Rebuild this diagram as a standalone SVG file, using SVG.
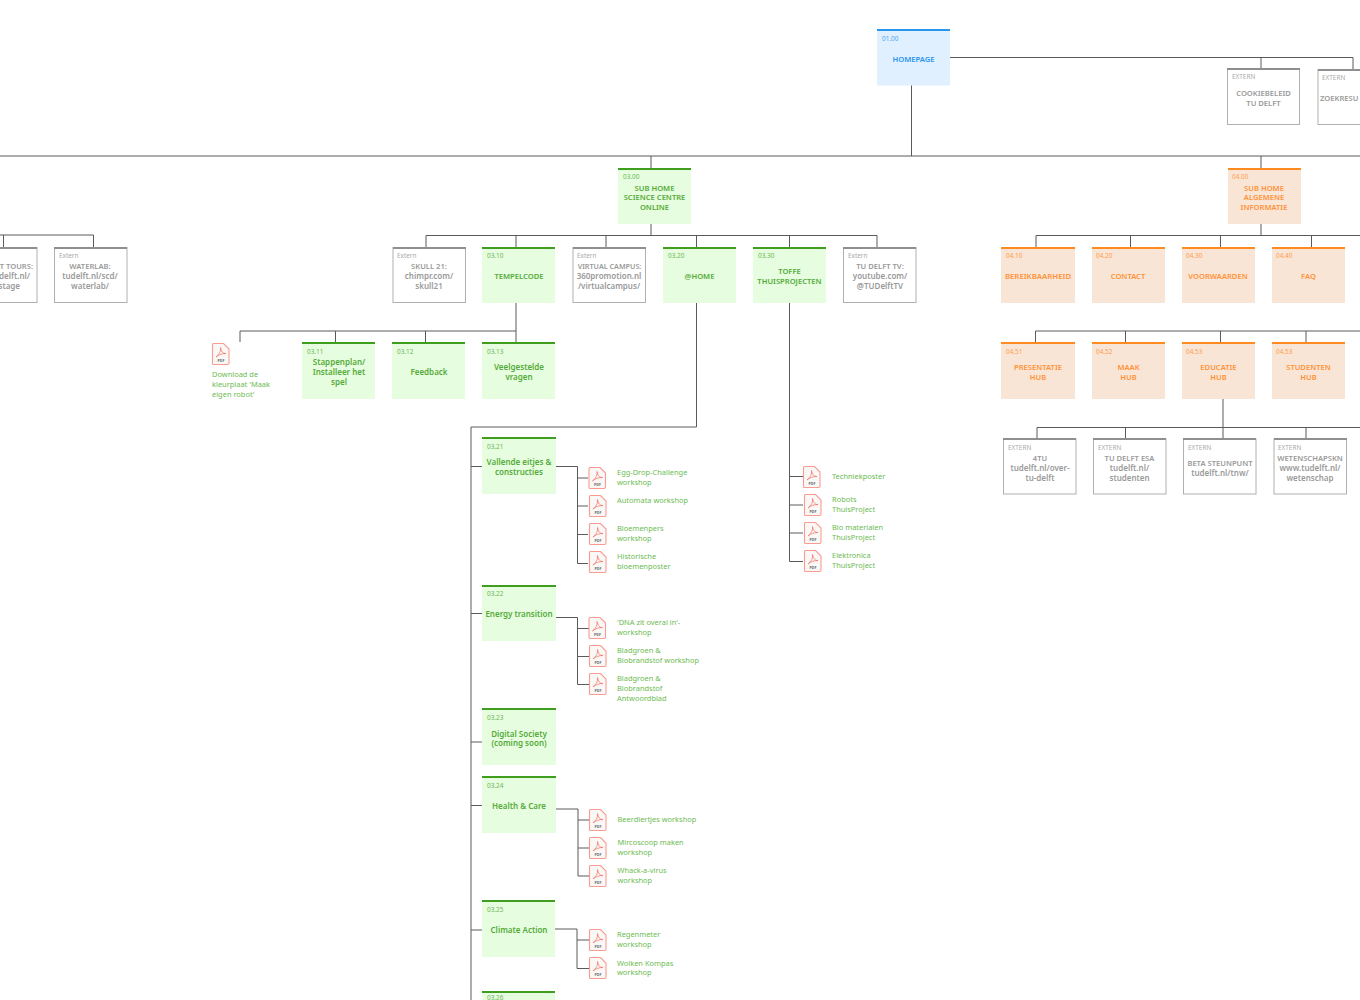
<svg xmlns="http://www.w3.org/2000/svg" width="1360" height="1000" viewBox="0 0 1360 1000">
<style>
text{font-family:"Noto Sans","Open Sans","Liberation Sans",sans-serif}
.id{font-size:6.4px}
.t{font-size:8px;font-weight:600;text-anchor:middle}
.c{font-size:7.6px}
.f{fill:#6dbb52;font-size:7.45px}
.g .b{fill:#e6fde0}.g .top{stroke:#3f9e1d}.g text{fill:#55ab38}.g .id{fill:#6db755}
.o .b{fill:#f9e5d6}.o .top{stroke:#ff8a20}.o text{fill:#ff9238}.o .id{fill:#ff9c4c}
.u .b{fill:#e1f0ff}.u .top{stroke:#2a95ee}.u text{fill:#2a95ee}.u .id{fill:#4aa6f0}
.x .b{fill:#fff;stroke:#b0b0b0;stroke-width:1}.x .top{stroke:#8f8f8f}.x text{fill:#9a9a9a}.x .id{fill:#aaa}
.top{stroke-width:2;fill:none}
#connectors path{fill:none;stroke:#5a5a5a;stroke-width:1}
.ic{fill:#faf8f7;stroke:#fb9a90;stroke-width:1.1}
.gl{fill:none;stroke:#f4766a;stroke-width:.8}
.pt{font-size:3.6px;font-weight:700;fill:#666;text-anchor:middle}
</style>
<defs>
<g id="pdf">
<path class="ic" d="M1.500 .5H11.500L17 6V20Q17 21.500 15.500 21.500H1.500Q.5 21.500 .5 20.500V1.500Q.5 .5 1.500 .5Z"/>
<path class="gl" d="M8.500 4.500C9 8 7.500 11 4 14C7 11.500 10 10.500 14 10.500C11 10.500 9.500 9 8.500 4.500Z"/>
<text class="pt" x="9" y="19">PDF</text>
</g>
</defs>
<g id="connectors">
<path d="M950 57.500H1353V69M1261 57.500V68"/>
<path d="M911.500 85V156M0 156H1360M651 156V168M1261 156V168"/>
<path d="M651 224V235.500M426 247V235.500H877V247M516 235.500V247M606 235.500V247M696.500 235.500V247M789.500 235.500V247"/>
<path d="M0 235H93.500V247M3.500 235V247"/>
<path d="M516 303V331M240 342V331H516V342M335.500 331V342M425.500 331V342"/>
<path d="M696.500 303V427H471V1000M471 466.500H482M471 613.500H482M471 742H482M471 805.500H482M471 930H482"/>
<path d="M555 466.500H577.500V563.500H588M577.500 478H588M577.500 506H588M577.500 534.500H588"/>
<path d="M556 617.500H577.500V684.500H589M577.500 628.500H589M577.500 656.500H589"/>
<path d="M556 809H578V876H589M578 820H589M578 848H589"/>
<path d="M555 929H577V968.500H589M577 940H589"/>
<path d="M789.500 303V561.500H803M789.500 476.500H803M789.500 505H803M789.500 533H803"/>
<path d="M1261 224V235.500M1036 247V235.500H1360M1130.500 235.500V247M1220.500 235.500V247M1311.500 235.500V247"/>
<path d="M1035.500 342V331H1360M1125.500 331V342M1220.500 331V342M1306 331V342"/>
<path d="M1223 399V438M1037 438V427.500H1360M1125.500 427.500V438M1306 427.500V438"/>
</g>

<g id="n0100" class="u"><rect class="b" x="877" y="29" width="73" height="56.500"/><path class="top" d="M877 30H950"/><text class="id" x="882" y="40.500">01.00</text><text class="t c" x="913.500" y="61.500">HOMEPAGE</text></g>

<g id="nCookie" class="x"><rect class="b" x="1227.500" y="69" width="72" height="55.500"/><path class="top" d="M1227 69H1300"/><text class="id" x="1232" y="79">EXTERN</text><text class="t c" x="1263.500" y="95.500">COOKIEBELEID</text><text class="t c" x="1263.500" y="105.500">TU DELFT</text></g>
<g id="nZoek" class="x"><rect class="b" x="1318" y="69.500" width="60" height="55"/><path class="top" d="M1318 70H1360"/><text class="id" x="1322" y="79.500">EXTERN</text><text class="t c" x="1320" y="101" style="text-anchor:start">ZOEKRESU</text></g>

<g id="n0300" class="g"><rect class="b" x="618" y="168" width="73" height="56"/><path class="top" d="M618 169H691"/><text class="id" x="623" y="179">03.00</text><text class="t c" x="654.500" y="190.500">SUB HOME</text><text class="t c" x="654.500" y="200">SCIENCE CENTRE</text><text class="t c" x="654.500" y="210">ONLINE</text></g>
<g id="n0400" class="o"><rect class="b" x="1228" y="168" width="73" height="56"/><path class="top" d="M1228 169H1301"/><text class="id" x="1232" y="179">04.00</text><text class="t c" x="1264" y="190.500">SUB HOME</text><text class="t c" x="1264" y="200">ALGEMENE</text><text class="t c" x="1264" y="210">INFORMATIE</text></g>

<g id="nTours" class="x"><rect class="b" x="-36" y="247.500" width="73" height="55"/><path class="top" d="M-36 248H37"/><text class="t c" x="33" y="269" style="text-anchor:end">T TOURS:</text><text class="t" x="30" y="279" style="text-anchor:end">delft.nl/</text><text class="t" x="20" y="288.500" style="text-anchor:end">stage</text></g>
<g id="nWaterlab" class="x"><rect class="b" x="54.500" y="247.500" width="72.500" height="55"/><path class="top" d="M54 248H127"/><text class="id" x="59" y="258">Extern</text><text class="t c" x="90" y="269">WATERLAB:</text><text class="t" x="90" y="279">tudelft.nl/scd/</text><text class="t" x="90" y="288.500">waterlab/</text></g>
<g id="nSkull" class="x"><rect class="b" x="393" y="247.500" width="72.500" height="55"/><path class="top" d="M393 248H466"/><text class="id" x="397" y="258">Extern</text><text class="t c" x="429" y="269">SKULL 21:</text><text class="t" x="429" y="279">chimpr.com/</text><text class="t" x="429" y="288.500">skull21</text></g>
<g id="n0310" class="g"><rect class="b" x="482" y="247" width="73" height="56"/><path class="top" d="M482 248H555"/><text class="id" x="487" y="258">03.10</text><text class="t c" x="519" y="279">TEMPELCODE</text></g>
<g id="nVirtual" class="x"><rect class="b" x="573" y="247.500" width="72.500" height="55"/><path class="top" d="M573 248H646"/><text class="id" x="577" y="258">Extern</text><text class="t c" x="609.500" y="269" style="font-size:7.2px">VIRTUAL CAMPUS:</text><text class="t" x="609" y="279">360promotion.nl</text><text class="t" x="609" y="288.500">/virtualcampus/</text></g>
<g id="n0320" class="g"><rect class="b" x="663" y="247" width="73" height="56"/><path class="top" d="M663 248H736"/><text class="id" x="668" y="258">03.20</text><text class="t c" x="699.500" y="279">@HOME</text></g>
<g id="n0330" class="g"><rect class="b" x="753" y="247" width="73" height="56"/><path class="top" d="M753 248H826"/><text class="id" x="758" y="258">03.30</text><text class="t c" x="789.500" y="274">TOFFE</text><text class="t c" x="789.500" y="284">THUISPROJECTEN</text></g>
<g id="nTv" class="x"><rect class="b" x="843.500" y="247.500" width="72.500" height="55"/><path class="top" d="M843 248H916"/><text class="id" x="848" y="258">Extern</text><text class="t c" x="880" y="269">TU DELFT TV:</text><text class="t" x="880" y="279">youtube.com/</text><text class="t" x="880" y="288.500">@TUDelftTV</text></g>

<g id="n0410" class="o"><rect class="b" x="1001" y="247" width="74" height="56"/><path class="top" d="M1001 248H1075"/><text class="id" x="1006" y="258">04.10</text><text class="t" x="1038" y="279" style="font-size:7.8px">BEREIKBAARHEID</text></g>
<g id="n0420" class="o"><rect class="b" x="1092" y="247" width="73" height="56"/><path class="top" d="M1092 248H1165"/><text class="id" x="1096" y="258">04.20</text><text class="t c" x="1128" y="279">CONTACT</text></g>
<g id="n0430" class="o"><rect class="b" x="1182" y="247" width="73" height="56"/><path class="top" d="M1182 248H1255"/><text class="id" x="1186" y="258">04.30</text><text class="t c" x="1218" y="279">VOORWAARDEN</text></g>
<g id="n0440" class="o"><rect class="b" x="1272" y="247" width="73" height="56"/><path class="top" d="M1272 248H1345"/><text class="id" x="1276" y="258">04.40</text><text class="t c" x="1308.500" y="279">FAQ</text></g>

<g id="pdfRobot"><use href="#pdf" x="212" y="343"/><text class="f" x="212" y="377">Download de</text><text class="f" x="212" y="387">kleurplaat 'Maak</text><text class="f" x="212" y="397">eigen robot'</text></g>
<g id="n0311" class="g"><rect class="b" x="302" y="342" width="73" height="57"/><path class="top" d="M302 343H375"/><text class="id" x="307" y="354">03.11</text><text class="t" x="339" y="365">Stappenplan/</text><text class="t" x="339" y="375">Installeer het</text><text class="t" x="339" y="385">spel</text></g>
<g id="n0312" class="g"><rect class="b" x="392" y="342" width="73" height="57"/><path class="top" d="M392 343H465"/><text class="id" x="397" y="354">03.12</text><text class="t" x="429" y="375">Feedback</text></g>
<g id="n0313" class="g"><rect class="b" x="482" y="342" width="73" height="57"/><path class="top" d="M482 343H555"/><text class="id" x="487" y="354">03.13</text><text class="t" x="519" y="370">Veelgestelde</text><text class="t" x="519" y="380">vragen</text></g>

<g id="n0451" class="o"><rect class="b" x="1001" y="342" width="74" height="57"/><path class="top" d="M1001 343H1075"/><text class="id" x="1006" y="354">04.51</text><text class="t c" x="1038" y="370">PRESENTATIE</text><text class="t c" x="1038" y="380">HUB</text></g>
<g id="n0452" class="o"><rect class="b" x="1092" y="342" width="73" height="57"/><path class="top" d="M1092 343H1165"/><text class="id" x="1096" y="354">04.52</text><text class="t c" x="1128.500" y="370">MAAK</text><text class="t c" x="1128.500" y="380">HUB</text></g>
<g id="n0453" class="o"><rect class="b" x="1182" y="342" width="73" height="57"/><path class="top" d="M1182 343H1255"/><text class="id" x="1186" y="354">04.53</text><text class="t c" x="1218.500" y="370">EDUCATIE</text><text class="t c" x="1218.500" y="380">HUB</text></g>
<g id="n0455" class="o"><rect class="b" x="1272" y="342" width="73" height="57"/><path class="top" d="M1272 343H1345"/><text class="id" x="1276" y="354">04.53</text><text class="t c" x="1308.500" y="370">STUDENTEN</text><text class="t c" x="1308.500" y="380">HUB</text></g>

<g id="n4tu" class="x"><rect class="b" x="1003.500" y="439" width="72.500" height="55"/><path class="top" d="M1003 439H1076"/><text class="id" x="1008" y="449.500">EXTERN</text><text class="t c" x="1040" y="461">4TU</text><text class="t" x="1040" y="471">tudelft.nl/over-</text><text class="t" x="1040" y="480.500">tu-delft</text></g>
<g id="nEsa" class="x"><rect class="b" x="1093.500" y="439" width="72.500" height="55"/><path class="top" d="M1093 439H1166"/><text class="id" x="1098" y="449.500">EXTERN</text><text class="t c" x="1129.500" y="461">TU DELFT ESA</text><text class="t" x="1129.500" y="471">tudelft.nl/</text><text class="t" x="1129.500" y="480.500">studenten</text></g>
<g id="nBeta" class="x"><rect class="b" x="1183.500" y="439" width="72.500" height="55"/><path class="top" d="M1183 439H1256"/><text class="id" x="1188" y="449.500">EXTERN</text><text class="t c" x="1220" y="466">BETA STEUNPUNT</text><text class="t" x="1220" y="475.500">tudelft.nl/tnw/</text></g>
<g id="nWet" class="x"><rect class="b" x="1274" y="439" width="72.500" height="55"/><path class="top" d="M1274 439H1347"/><text class="id" x="1278" y="449.500">EXTERN</text><text class="t c" x="1310" y="461">WETENSCHAPSKN</text><text class="t" x="1310" y="471">www.tudelft.nl/</text><text class="t" x="1310" y="480.500">wetenschap</text></g>

<g id="n0321" class="g"><rect class="b" x="482" y="437" width="74" height="57"/><path class="top" d="M482 438H556"/><text class="id" x="487" y="449">03.21</text><text class="t" x="519" y="465">Vallende eitjes &amp;</text><text class="t" x="519" y="474.500">constructies</text></g>
<g id="n0322" class="g"><rect class="b" x="482" y="585" width="74" height="56"/><path class="top" d="M482 586H556"/><text class="id" x="487" y="596">03.22</text><text class="t" x="519" y="617">Energy transition</text></g>
<g id="n0323" class="g"><rect class="b" x="482" y="708" width="74" height="57"/><path class="top" d="M482 709H556"/><text class="id" x="487" y="720">03.23</text><text class="t" x="519" y="736.500">Digital Society</text><text class="t" x="519" y="746">(coming soon)</text></g>
<g id="n0324" class="g"><rect class="b" x="482" y="776" width="74" height="57"/><path class="top" d="M482 777H556"/><text class="id" x="487" y="788">03.24</text><text class="t" x="519" y="809">Health &amp; Care</text></g>
<g id="n0325" class="g"><rect class="b" x="482" y="900" width="73" height="57"/><path class="top" d="M482 901H555"/><text class="id" x="487" y="912">03.25</text><text class="t" x="519" y="933">Climate Action</text></g>
<g id="n0326" class="g"><rect class="b" x="482" y="991" width="73" height="20"/><path class="top" d="M482 992H555"/><text class="id" x="487" y="1000">03.26</text></g>

<g id="pdfs21"><use href="#pdf" x="588.500" y="467"/><text class="f" x="617" y="475">Egg-Drop-Challenge</text><text class="f" x="617" y="485">workshop</text>
<use href="#pdf" x="589" y="495"/><text class="f" x="617" y="503">Automata workshop</text>
<use href="#pdf" x="589" y="523"/><text class="f" x="617" y="531">Bloemenpers</text><text class="f" x="617" y="541">workshop</text>
<use href="#pdf" x="589" y="551"/><text class="f" x="617" y="559">Historische</text><text class="f" x="617" y="569">bloemenposter</text></g>
<g id="pdfs22"><use href="#pdf" x="588.500" y="617"/><text class="f" x="617" y="625">'DNA zit overal in'-</text><text class="f" x="617" y="635">workshop</text>
<use href="#pdf" x="589" y="645"/><text class="f" x="617" y="653">Bladgroen &amp;</text><text class="f" x="617" y="663">Biobrandstof workshop</text>
<use href="#pdf" x="589" y="673"/><text class="f" x="617" y="681">Bladgroen &amp;</text><text class="f" x="617" y="691">Biobrandstof</text><text class="f" x="617" y="701">Antwoordblad</text></g>
<g id="pdfs24"><use href="#pdf" x="589" y="809"/><text class="f" x="617.500" y="821.500">Beerdiertjes workshop</text>
<use href="#pdf" x="589" y="837"/><text class="f" x="617.500" y="845">Mircoscoop maken</text><text class="f" x="617.500" y="855">workshop</text>
<use href="#pdf" x="589" y="865"/><text class="f" x="617.500" y="873">Whack-a-virus</text><text class="f" x="617.500" y="883">workshop</text></g>
<g id="pdfs25"><use href="#pdf" x="589" y="929"/><text class="f" x="617" y="937">Regenmeter</text><text class="f" x="617" y="947">workshop</text>
<use href="#pdf" x="589" y="957"/><text class="f" x="617" y="966">Wolken Kompas</text><text class="f" x="617" y="975">workshop</text></g>
<g id="pdfs30"><use href="#pdf" x="803" y="466"/><text class="f" x="832" y="479">Techniekposter</text>
<use href="#pdf" x="804" y="494"/><text class="f" x="832" y="502">Robots</text><text class="f" x="832" y="512">ThuisProject</text>
<use href="#pdf" x="804" y="522"/><text class="f" x="832" y="530">Bio materialen</text><text class="f" x="832" y="540">ThuisProject</text>
<use href="#pdf" x="804" y="550"/><text class="f" x="832" y="558">Elektronica</text><text class="f" x="832" y="568">ThuisProject</text></g>
</svg>
